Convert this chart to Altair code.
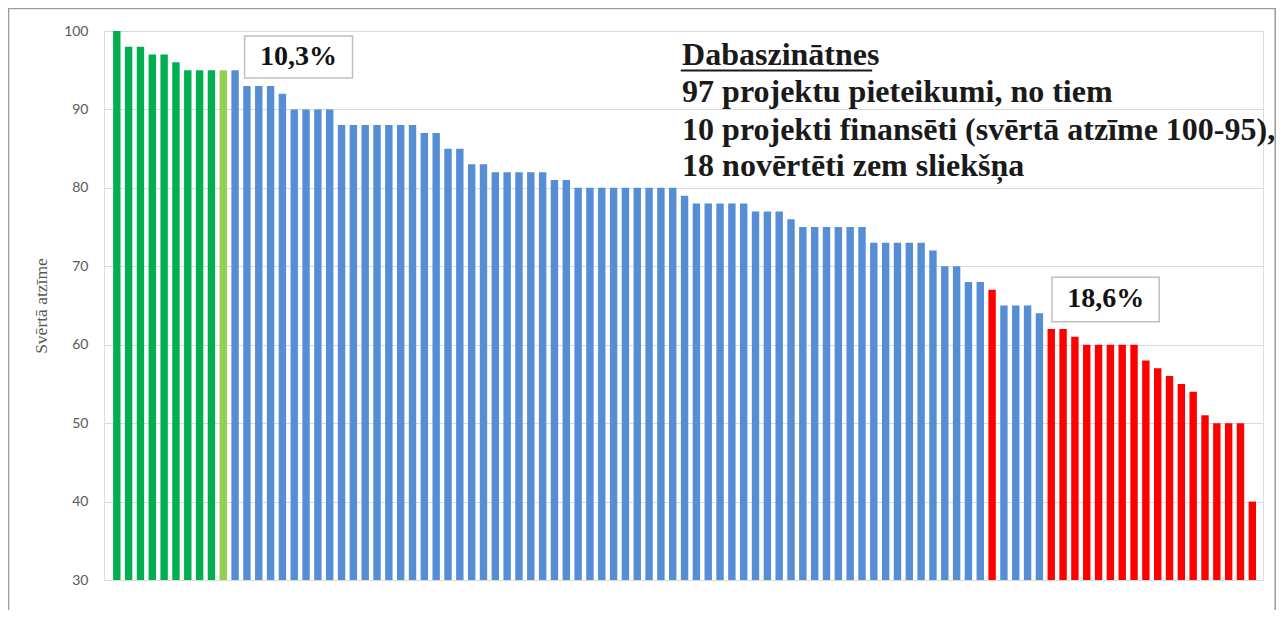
import altair as alt
import pandas as pd

# ---- data ----
scores = [100, 98, 98, 97, 97, 96, 95, 95, 95, 95,
          95, 93, 93, 93, 92, 90, 90, 90, 90,
          88, 88, 88, 88, 88, 88, 88, 87, 87, 85, 85, 83, 83,
          82, 82, 82, 82, 82, 81, 81,
          80, 80, 80, 80, 80, 80, 80, 80, 80, 79,
          78, 78, 78, 78, 78, 77, 77, 77, 76,
          75, 75, 75, 75, 75, 75, 73, 73, 73, 73, 73, 72,
          70, 70, 68, 68,
          67, 65, 65, 65, 64,
          62, 62, 61, 60, 60, 60, 60, 60, 58, 57, 56, 55, 54, 51, 50, 50, 50, 40]

status = (["finansēts"] * 9 + ["daļēji"] + ["virs sliekšņa"] * 64 + ["zem sliekšņa"]
          + ["virs sliekšņa"] * 4 + ["zem sliekšņa"] * 18)

status_names = ["finansēts", "daļēji", "virs sliekšņa", "zem sliekšņa"]
status_colors = ["#00B050", "#92D050", "#558ED5", "#FF0000"]

y_ticks = [30, 40, 50, 60, 70, 80, 90, 100]
y_title = "Svērtā atzīme"

pct_labels = ["10,3%", "18,6%"]
note_lines = ["Dabaszinātnes",
              "97 projektu pieteikumi, no tiem",
              "10 projekti finansēti (svērtā atzīme 100-95),",
              "18 novērtēti zem sliekšņa"]

# annotation anchors (in data units: bar index / score)
pct_box_x1 = [10.80, 79.06]
pct_box_x2 = [19.93, 88.13]
pct_box_y1 = [99.36, 68.60]
pct_box_y2 = [94.00, 62.93]
pct_text_x = [15.36, 83.61]
pct_text_y = [96.68, 65.77]
note_x = 47.79
note_y = [95.66, 90.95, 86.10, 81.51]
underline_x = [47.68, 63.86]
underline_y = 94.96

W, H = 1159, 549

bars_df = pd.DataFrame({"idx": list(range(len(scores))), "score": scores, "status": status})
pct_df = pd.DataFrame({"label": pct_labels, "x1": pct_box_x1, "x2": pct_box_x2,
                       "y1": pct_box_y1, "y2": pct_box_y2, "tx": pct_text_x, "ty": pct_text_y})
note_df = pd.DataFrame({"line": note_lines, "x": [note_x] * 4, "y": note_y})
ul_df = pd.DataFrame({"x1": [underline_x[0]], "x2": [underline_x[1]], "y": [underline_y]})
one_df = pd.DataFrame({"a": [0]})

xscale = alt.Scale(domain=[-0.66, len(scores) - 0.52], nice=False, zero=False)
yscale = alt.Scale(domain=[30, 100], nice=False, zero=False)

frame = alt.Chart(one_df).mark_rect(fill=None, stroke="#9A9A9A", strokeWidth=1.5, clip=False).encode(
    x=alt.value(-95.5), x2=alt.value(W + 12.2), y=alt.value(-22.5), y2=alt.value(H + 60)
)

bars = alt.Chart(bars_df).mark_bar(size=7.4).encode(
    x=alt.X("idx:Q", scale=xscale, axis=None),
    y=alt.Y("score:Q", scale=yscale,
            axis=alt.Axis(values=y_ticks, title=y_title, grid=True, gridColor="#D9D9D9",
                          domain=False, ticks=False, labelPadding=16,
                          labelFont="Lato", labelFontSize=14, labelColor="#595959",
                          titleFont="Liberation Serif", titleFontSize=17.5, titleFontWeight="normal",
                          titleColor="#595959", titlePadding=13)),
    y2=alt.datum(30),
    color=alt.Color("status:N", scale=alt.Scale(domain=status_names, range=status_colors), legend=None),
)

boxes = alt.Chart(pct_df).mark_rect(fill="white", stroke="#BFBFBF", strokeWidth=1.5).encode(
    x=alt.X("x1:Q", scale=xscale), x2="x2:Q",
    y=alt.Y("y1:Q", scale=yscale), y2="y2:Q",
)

box_text = alt.Chart(pct_df).mark_text(font="Liberation Serif", fontSize=28, fontWeight="bold",
                                       color="#111111", align="center", baseline="middle").encode(
    x=alt.X("tx:Q", scale=xscale), y=alt.Y("ty:Q", scale=yscale), text="label:N"
)

notes = alt.Chart(note_df).mark_text(font="Liberation Serif", fontSize=32, fontWeight="bold",
                                     color="#1A1A1A", align="left", baseline="alphabetic").encode(
    x=alt.X("x:Q", scale=xscale), y=alt.Y("y:Q", scale=yscale), text="line:N"
)

underline = alt.Chart(ul_df).mark_rule(color="#1A1A1A", strokeWidth=2).encode(
    x=alt.X("x1:Q", scale=xscale), x2="x2:Q", y=alt.Y("y:Q", scale=yscale)
)

chart = alt.layer(frame, bars, boxes, box_text, notes, underline).properties(
    width=W, height=H,
    padding={"left": 96, "top": 23, "right": 13, "bottom": 30},
    autosize=alt.AutoSizeParams(type="none"),
).configure_view(stroke=None).configure(background="white")

chart.save("out.html", embed_options={"renderer": "svg", "actions": False})
